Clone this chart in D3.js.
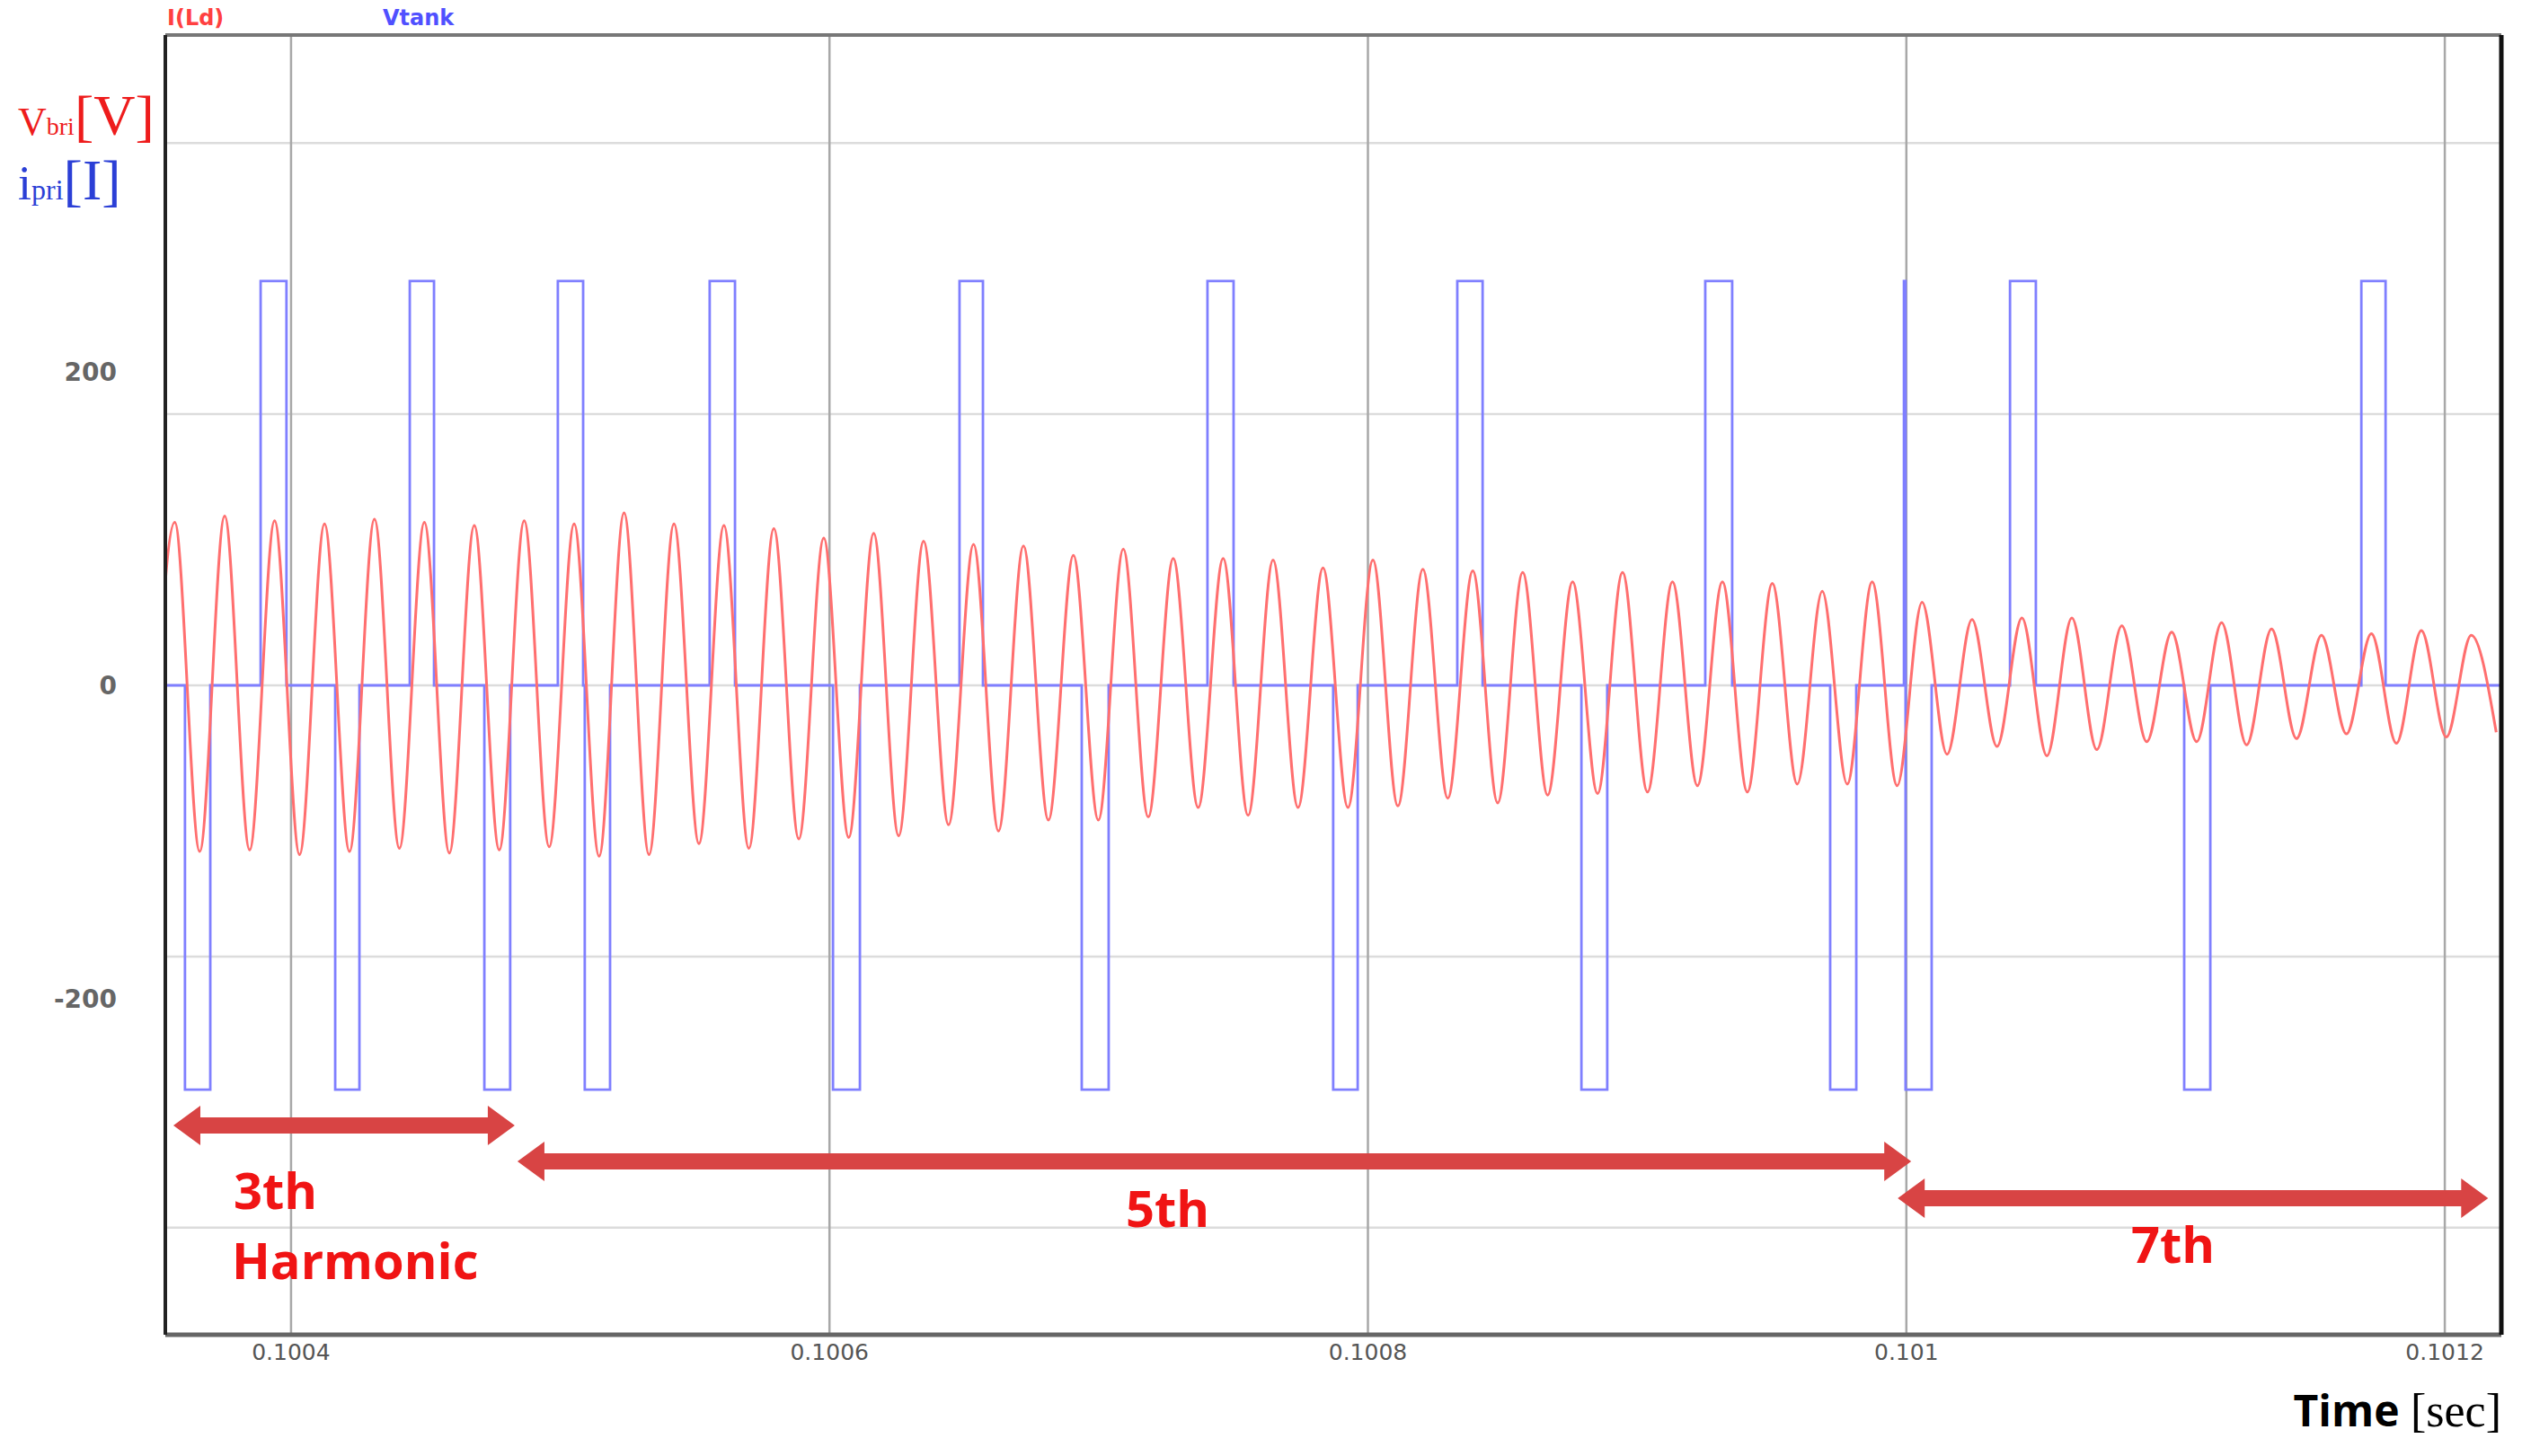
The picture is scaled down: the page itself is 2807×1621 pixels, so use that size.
<!DOCTYPE html>
<html>
<head>
<meta charset="utf-8">
<script src="https://cdn.jsdelivr.net/npm/d3@7"></script>
<style>
  body { margin: 0; background: #fff; }
  svg { display: block; }
</style>
</head>
<body>
<svg id="chart" width="2807" height="1621"></svg>
<script>
// time grid and tick labels
var xTicks = [0.1004, 0.1006, 0.1008, 0.1010, 0.1012];
var xTickLabels = ["0.1004", "0.1006", "0.1008", "0.101", "0.1012"];
var yTicks = [200, 0, -200];
var yGrid = [346, 173, 0, -173, -346];

// Vbri: alternating extrema (trough, peak, trough ...), half period apart
var firstExtremum = 0.10034753;
var halfPeriod = 9.272e-6;
var peaks = [104, 108, 105, 103, 106, 104, 102, 105, 103, 110, 103, 102, 100, 94, 97, 92, 90, 89,
  83, 87, 81, 81, 80, 75, 80, 74, 73, 72, 66, 72, 66, 66, 65, 60, 66,
  53, 42, 43, 43, 38, 34, 40, 36, 32, 33, 35, 32];
var troughs = [-100, -106, -105, -108, -106, -104, -107, -105, -103, -109, -108, -101, -104, -98, -97, -96, -89, -93,
  -86, -86, -84, -78, -83, -78, -78, -77, -72, -75, -70, -69, -68, -64, -68, -63, -63, -64,
  -44, -39, -45, -41, -36, -36, -38, -34, -31, -37, -33, -30];

// ipri: pulse start / end times
var posStart = [0.1003887, 0.1004441, 0.1004991, 0.1005555, 0.1006483, 0.1007404, 0.1008332, 0.1009253, 0.1009991, 0.1010385, 0.1011690];
var posEnd   = [0.1003983, 0.1004531, 0.1005085, 0.1005649, 0.1006570, 0.1007501, 0.1008426, 0.1009353, 0.1009997, 0.1010481, 0.1011780];
var negStart = [0.1003606, 0.1004164, 0.1004718, 0.1005091, 0.1006013, 0.1006937, 0.1007871, 0.1008793, 0.1009717, 0.1009997, 0.1011032];
var negEnd   = [0.1003700, 0.1004254, 0.1004814, 0.1005185, 0.1006113, 0.1007037, 0.1007962, 0.1008889, 0.1009814, 0.1010094, 0.1011129];
var pulseLevel = 258;

// harmonic regions
var harmonicNames = ["3th", "5th", "7th"];
var harmonicFrom = [0.1003563, 0.1004841, 0.1009968];
var harmonicTo   = [0.1004831, 0.1010018, 0.1012161];

var svg = d3.select("#chart");
var plotL = 184, plotR = 2784, plotT = 39, plotB = 1486;

var x = d3.scaleLinear().domain([0.1003533, 0.101221]).range([plotL, plotR]);
var y = d3.scaleLinear().domain([0, 200]).range([763, 414]);

svg.append("defs").append("clipPath").attr("id", "plot")
  .append("rect").attr("x", plotL).attr("y", plotT).attr("width", plotR - plotL).attr("height", plotB - plotT);

// grid
svg.append("g").selectAll("line").data(yGrid).join("line")
  .attr("x1", plotL).attr("x2", plotR)
  .attr("y1", function (d) { return y(d); }).attr("y2", function (d) { return y(d); })
  .attr("stroke", "#dcdcdc").attr("stroke-width", 2.5);
svg.append("g").selectAll("line").data(xTicks).join("line")
  .attr("x1", function (d) { return x(d); }).attr("x2", function (d) { return x(d); })
  .attr("y1", plotT).attr("y2", plotB)
  .attr("stroke", "#a8a8a8").attr("stroke-width", 2.5);

// ipri square pulses
var events = [];
posStart.forEach(function (s, i) { events.push([s, posEnd[i], pulseLevel]); });
negStart.forEach(function (s, i) { events.push([s, negEnd[i], -pulseLevel]); });
events.sort(function (a, b) { return a[0] - b[0]; });
var bluePts = [[x.domain()[0], 0]];
events.forEach(function (e) {
  bluePts.push([e[0], 0], [e[0], e[2]], [e[1], e[2]], [e[1], 0]);
});
bluePts.push([x.domain()[1], 0]);
svg.append("path").datum(bluePts)
  .attr("clip-path", "url(#plot)")
  .attr("fill", "none").attr("stroke", "#7f7fff").attr("stroke-width", 2.8)
  .attr("d", d3.line().x(function (d) { return x(d[0]); }).y(function (d) { return y(d[1]); }));

// Vbri sine-like waveform through extrema
var redPts = [];
troughs.forEach(function (v, i) {
  redPts.push([firstExtremum + 2 * i * halfPeriod, v]);
  if (i < peaks.length) redPts.push([firstExtremum + (2 * i + 1) * halfPeriod, peaks[i]]);
});
svg.append("path").datum(redPts)
  .attr("clip-path", "url(#plot)")
  .attr("fill", "none").attr("stroke", "#ff6f6f").attr("stroke-width", 3)
  .attr("d", d3.line().curve(d3.curveMonotoneX)
    .x(function (d) { return x(d[0]); }).y(function (d) { return y(d[1]); }));

// frame
svg.append("line").attr("x1", plotL).attr("x2", plotR).attr("y1", plotT).attr("y2", plotT)
  .attr("stroke", "#777").attr("stroke-width", 4);
svg.append("line").attr("x1", plotL).attr("x2", plotR).attr("y1", plotB).attr("y2", plotB)
  .attr("stroke", "#666").attr("stroke-width", 5);
svg.append("line").attr("x1", plotL).attr("x2", plotL).attr("y1", plotT).attr("y2", plotB)
  .attr("stroke", "#222").attr("stroke-width", 4);
svg.append("line").attr("x1", plotR).attr("x2", plotR).attr("y1", plotT).attr("y2", plotB)
  .attr("stroke", "#111").attr("stroke-width", 5);

// tick labels
svg.append("g").selectAll("text").data(xTicks).join("text")
  .attr("x", function (d) { return x(d); }).attr("y", 1514)
  .attr("text-anchor", "middle")
  .attr("font-family", "DejaVu Sans").attr("font-size", 25).attr("fill", "#555")
  .text(function (d, i) { return xTickLabels[i]; });
svg.append("g").selectAll("text").data(yTicks).join("text")
  .attr("x", 130).attr("y", function (d) { return y(d) + 10; })
  .attr("text-anchor", "end")
  .attr("font-family", "DejaVu Sans").attr("font-weight", "bold").attr("font-size", 28).attr("fill", "#666")
  .text(function (d) { return d; });

// legend names
svg.append("text").attr("x", 186).attr("y", 28).attr("font-family", "DejaVu Sans").attr("font-weight", "bold")
  .attr("font-size", 24).attr("fill", "#ff4040").text("I(Ld)");
svg.append("text").attr("x", 426).attr("y", 28).attr("font-family", "DejaVu Sans").attr("font-weight", "bold")
  .attr("font-size", 24).attr("fill", "#5050ff").text("Vtank");

// axis titles
var vt = svg.append("text").attr("x", 20).attr("y", 150).attr("font-family", "Liberation Serif").attr("fill", "#ee1c1c");
vt.append("tspan").attr("font-size", 44).text("V");
vt.append("tspan").attr("font-size", 28).text("bri");
vt.append("tspan").attr("font-size", 64).text("[V]");
var it = svg.append("text").attr("x", 20).attr("y", 222).attr("font-family", "Liberation Serif").attr("fill", "#2b3fd6");
it.append("tspan").attr("font-size", 54).text("i");
it.append("tspan").attr("font-size", 32).text("pri");
it.append("tspan").attr("font-size", 64).text("[I]");
var tt = svg.append("text").attr("x", 2784).attr("y", 1588).attr("text-anchor", "end");
tt.append("tspan").attr("font-family", "Open Sans").attr("font-weight", "bold").attr("font-size", 48).attr("fill", "#000").text("Time ");
tt.append("tspan").attr("font-family", "Liberation Serif").attr("font-size", 52).attr("fill", "#000").text("[sec]");

// harmonic arrows
var arrowY = [1253, 1293, 1334];
var arrowColor = "#d84444";
harmonicNames.forEach(function (n, i) {
  var x1 = x(harmonicFrom[i]), x2 = x(harmonicTo[i]), yy = arrowY[i];
  var h = 30, w = 9, hh = 22;
  var pts = [[x1, yy], [x1 + h, yy - hh], [x1 + h, yy - w], [x2 - h, yy - w], [x2 - h, yy - hh], [x2, yy],
    [x2 - h, yy + hh], [x2 - h, yy + w], [x1 + h, yy + w], [x1 + h, yy + hh]];
  svg.append("path").attr("d", d3.line()(pts) + "Z").attr("fill", arrowColor);
});
var labelX = [260, 1253, 2372];
var labelY = [1346, 1366, 1406];
svg.append("g").selectAll("text").data(harmonicNames).join("text")
  .attr("x", function (d, i) { return labelX[i]; }).attr("y", function (d, i) { return labelY[i]; })
  .attr("font-family", "Open Sans").attr("font-weight", "bold").attr("font-size", 56).attr("fill", "#f01414")
  .text(function (d) { return d; });
svg.append("text").attr("x", 258).attr("y", 1424)
  .attr("font-family", "Open Sans").attr("font-weight", "bold").attr("font-size", 56).attr("fill", "#f01414")
  .text("Harmonic");
</script>
</body>
</html>
